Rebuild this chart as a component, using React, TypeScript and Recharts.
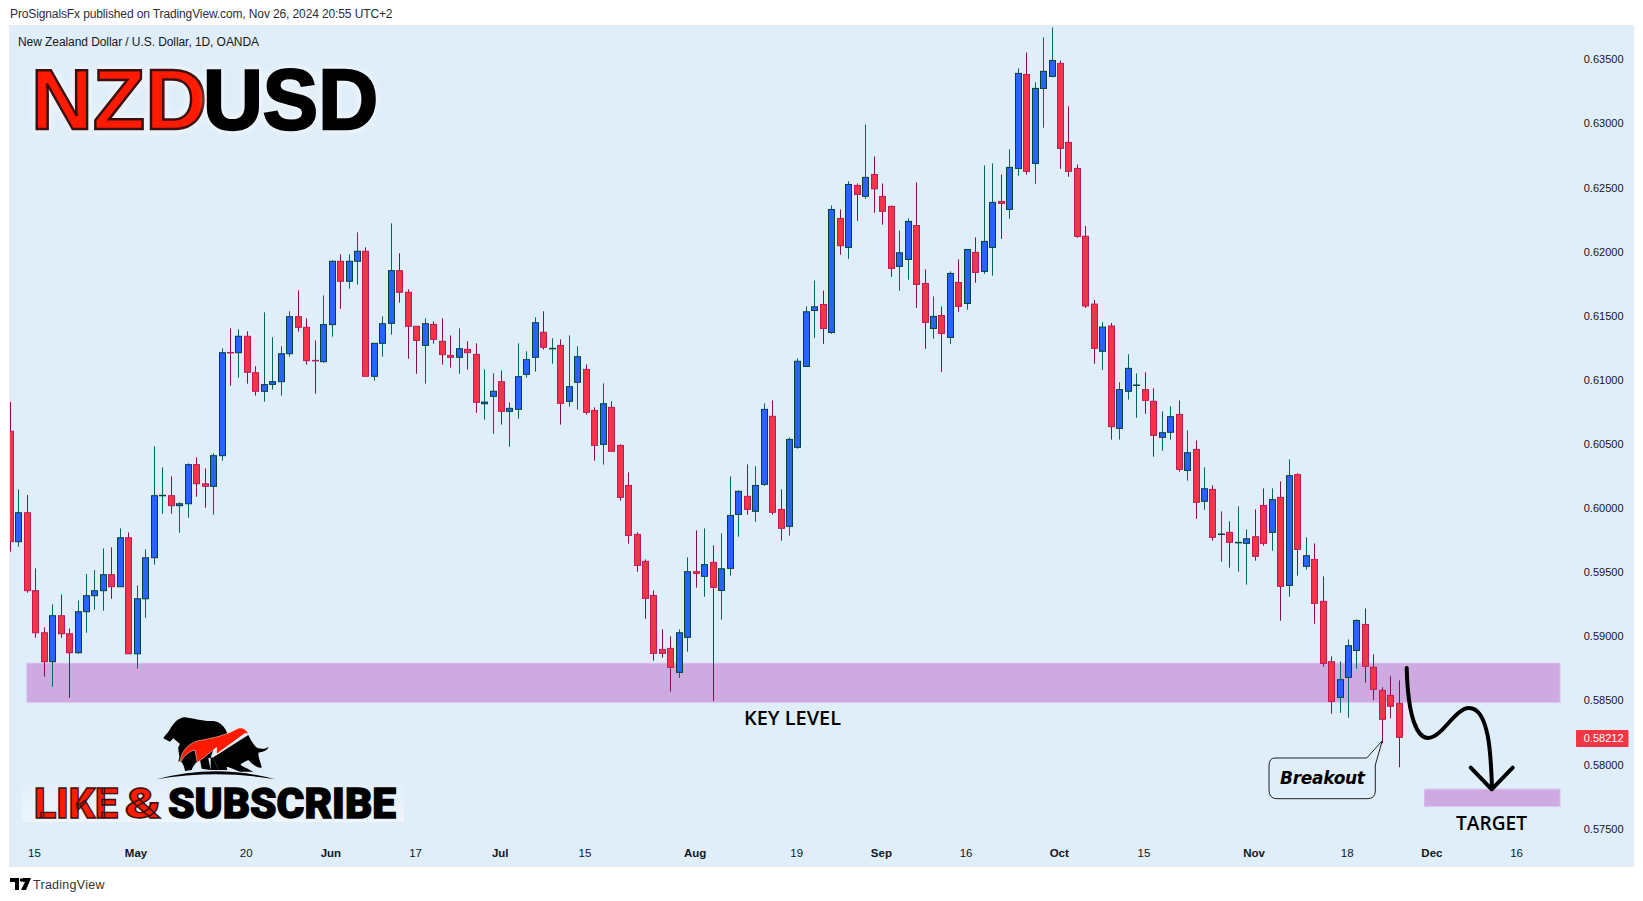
import { ComposedChart, Bar, XAxis, YAxis, ReferenceArea } from 'recharts'

// daily NZDUSD candles
const opens = [
  0.60599, 0.59738, 0.59964, 0.59356, 0.59028, 0.58802, 0.59161, 0.5902, 0.58872, 0.59192,
  0.59317, 0.59356, 0.59481, 0.59387, 0.59769, 0.58864, 0.59293, 0.59613, 0.60097, 0.60097,
  0.60019, 0.60034, 0.60339, 0.6019, 0.6017, 0.60409, 0.61214, 0.61212, 0.6134, 0.61056,
  0.60911, 0.60965, 0.60986, 0.61204, 0.61493, 0.6141, 0.61152, 0.61142, 0.61431, 0.61925,
  0.61769, 0.61925, 0.62003, 0.61028, 0.61285, 0.61441, 0.61852, 0.61683, 0.61418, 0.61269,
  0.61433, 0.61301, 0.61191, 0.61176, 0.61238, 0.61199, 0.60814, 0.60872, 0.60986, 0.60755,
  0.6077, 0.61043, 0.61176, 0.61371, 0.61243, 0.61269, 0.60833, 0.60981, 0.61082, 0.60762,
  0.60497, 0.60786, 0.60489, 0.60177, 0.59795, 0.59585, 0.59319, 0.58898, 0.58906, 0.58719,
  0.58992, 0.59504, 0.59468, 0.59577, 0.59358, 0.5953, 0.59951, 0.60092, 0.59975, 0.60185,
  0.60716, 0.5999, 0.59858, 0.60474, 0.61105, 0.61541, 0.61588, 0.6137, 0.62259, 0.62033,
  0.62516, 0.62431, 0.62602, 0.62431, 0.62353, 0.61885, 0.61939, 0.62204, 0.61752, 0.61401,
  0.61502, 0.61331, 0.6176, 0.61596, 0.61994, 0.61846, 0.62033, 0.62392, 0.62329, 0.62649,
  0.63382, 0.62688, 0.63273, 0.63367, 0.63468, 0.62852, 0.62649, 0.6212, 0.61591, 0.61223,
  0.6142, 0.60622, 0.60911, 0.60957, 0.60924, 0.60833, 0.60552, 0.60591, 0.60731, 0.60294,
  0.60458, 0.60053, 0.60146, 0.59795, 0.59811, 0.5973, 0.59725, 0.59777, 0.60021, 0.59811,
  0.60084, 0.59397, 0.60261, 0.59546, 0.596, 0.59273, 0.58802, 0.58524, 0.5868, 0.5889,
  0.59093, 0.58759, 0.58579, 0.5854, 0.58478,
]
const highs = [
  0.60827, 0.60146, 0.60102, 0.5953, 0.5907, 0.59249, 0.59327, 0.59062, 0.5928, 0.59486,
  0.59517, 0.59686, 0.59694, 0.59842, 0.59811, 0.59397, 0.59678, 0.60482, 0.60318, 0.60248,
  0.60045, 0.60349, 0.60396, 0.6031, 0.60427, 0.61246, 0.61402, 0.61394, 0.61379, 0.61106,
  0.61527, 0.61332, 0.61262, 0.61535, 0.61698, 0.6148, 0.61308, 0.61659, 0.61932, 0.61979,
  0.61979, 0.62151, 0.62034, 0.61285, 0.61496, 0.62221, 0.61987, 0.61706, 0.61418, 0.6148,
  0.61457, 0.6148, 0.61347, 0.61402, 0.61301, 0.61285, 0.61082, 0.61051, 0.61074, 0.60825,
  0.61285, 0.61223, 0.61488, 0.61535, 0.61324, 0.61316, 0.61347, 0.61262, 0.61121, 0.60786,
  0.60973, 0.60833, 0.60497, 0.60279, 0.59811, 0.596, 0.59358, 0.59054, 0.59, 0.59054,
  0.59616, 0.59826, 0.59842, 0.59709, 0.59803, 0.60248, 0.60138, 0.60341, 0.60326, 0.60817,
  0.6084, 0.60146, 0.60552, 0.61168, 0.61573, 0.61775, 0.61697, 0.6236, 0.62329, 0.62548,
  0.62532, 0.62992, 0.62743, 0.62532, 0.6236, 0.62165, 0.62259, 0.6254, 0.61861, 0.61651,
  0.61573, 0.61846, 0.61939, 0.62017, 0.62111, 0.62672, 0.62688, 0.62602, 0.62797, 0.63429,
  0.63554, 0.6332, 0.63671, 0.63749, 0.63491, 0.63133, 0.6268, 0.622, 0.61623, 0.61451,
  0.61444, 0.60981, 0.61199, 0.61051, 0.61059, 0.60934, 0.60755, 0.60794, 0.6084, 0.60606,
  0.60528, 0.60318, 0.60177, 0.59975, 0.59897, 0.60014, 0.59834, 0.5999, 0.60154, 0.60154,
  0.60209, 0.6038, 0.60271, 0.59772, 0.59725, 0.59468, 0.58844, 0.58805, 0.58976, 0.59132,
  0.59218, 0.5886, 0.58603, 0.58689, 0.58657,
]
const lows = [
  0.5966, 0.59699, 0.5934, 0.58989, 0.58685, 0.58607, 0.58989, 0.58521, 0.58864, 0.59028,
  0.59208, 0.592, 0.59293, 0.59387, 0.58864, 0.58747, 0.59145, 0.59559, 0.59956, 0.59956,
  0.59808, 0.59925, 0.60089, 0.60003, 0.59949, 0.6037, 0.60955, 0.61017, 0.6097, 0.60877,
  0.6083, 0.60924, 0.60877, 0.61181, 0.61376, 0.61119, 0.60892, 0.61134, 0.61337, 0.61555,
  0.61711, 0.61743, 0.61028, 0.60994, 0.61181, 0.61353, 0.61602, 0.61165, 0.61048, 0.6097,
  0.61282, 0.61119, 0.61095, 0.61048, 0.6108, 0.60744, 0.6069, 0.6058, 0.60651, 0.60479,
  0.60697, 0.61017, 0.61064, 0.61236, 0.61126, 0.60651, 0.60791, 0.60768, 0.60729, 0.6037,
  0.60339, 0.60443, 0.60058, 0.59722, 0.59504, 0.59137, 0.5881, 0.58833, 0.58568, 0.58677,
  0.5888, 0.59379, 0.59309, 0.58495, 0.5913, 0.59473, 0.59777, 0.59949, 0.59894, 0.60175,
  0.59949, 0.59746, 0.59785, 0.60463, 0.61102, 0.61328, 0.61281, 0.61359, 0.61976, 0.61944,
  0.62241, 0.62412, 0.62303, 0.6221, 0.61804, 0.61695, 0.61781, 0.61562, 0.61242, 0.6132,
  0.61063, 0.61281, 0.61531, 0.61547, 0.61757, 0.61827, 0.61812, 0.621, 0.62256, 0.62592,
  0.626, 0.62529, 0.62966, 0.63359, 0.62646, 0.62584, 0.62108, 0.6156, 0.61126, 0.61077,
  0.60534, 0.60534, 0.60846, 0.60705, 0.60736, 0.60401, 0.60448, 0.60534, 0.60284, 0.60214,
  0.59917, 0.59988, 0.59746, 0.59582, 0.59535, 0.59504, 0.59403, 0.5959, 0.59707, 0.59668,
  0.59122, 0.59309, 0.59473, 0.5952, 0.59098, 0.58763, 0.58396, 0.58404, 0.58365, 0.58747,
  0.58638, 0.58501, 0.58166, 0.58361, 0.57979,
]
const closes = [
  0.59738, 0.59964, 0.59356, 0.59028, 0.58802, 0.59161, 0.5902, 0.58872, 0.59192, 0.59317,
  0.59356, 0.59481, 0.59387, 0.59769, 0.58864, 0.59293, 0.59613, 0.60097, 0.601, 0.60019,
  0.60034, 0.60339, 0.6019, 0.6017, 0.60409, 0.61212, 0.61212, 0.6134, 0.61059, 0.60911,
  0.60963, 0.60986, 0.61204, 0.61493, 0.6141, 0.6115, 0.6115, 0.61431, 0.61925, 0.61769,
  0.61925, 0.62003, 0.61028, 0.61285, 0.61438, 0.61852, 0.61683, 0.61418, 0.61308, 0.61438,
  0.61316, 0.61197, 0.61176, 0.61243, 0.61212, 0.60825, 0.60827, 0.60911, 0.60755, 0.60778,
  0.61025, 0.61158, 0.61446, 0.61254, 0.61246, 0.60817, 0.60947, 0.61181, 0.60747, 0.60489,
  0.60814, 0.60443, 0.60084, 0.59787, 0.59553, 0.59296, 0.58867, 0.58867, 0.58758, 0.59028,
  0.59504, 0.59491, 0.59559, 0.59382, 0.59527, 0.59943, 0.60131, 0.5999, 0.60177, 0.6077,
  0.59967, 0.59842, 0.60536, 0.61145, 0.61531, 0.6157, 0.61401, 0.62329, 0.62046, 0.62524,
  0.62446, 0.62579, 0.6249, 0.62314, 0.61869, 0.61991, 0.62236, 0.61744, 0.61448, 0.61495,
  0.61362, 0.6183, 0.61573, 0.62017, 0.61838, 0.6208, 0.62384, 0.62376, 0.62657, 0.6339,
  0.62626, 0.63273, 0.63406, 0.63491, 0.62805, 0.62626, 0.62119, 0.61576, 0.61246, 0.61412,
  0.60635, 0.60924, 0.6109, 0.6096, 0.6084, 0.60567, 0.60588, 0.60713, 0.60302, 0.60432,
  0.60045, 0.60151, 0.59772, 0.59798, 0.59733, 0.59733, 0.59761, 0.59624, 0.59725, 0.60066,
  0.5939, 0.60253, 0.59678, 0.59629, 0.59257, 0.58789, 0.58493, 0.58662, 0.58927, 0.59124,
  0.58766, 0.58587, 0.58353, 0.58455, 0.58212,
]

const priceTicks = [0.575, 0.58, 0.58212, 0.585, 0.59, 0.595, 0.6, 0.605, 0.61, 0.615, 0.62, 0.625, 0.63, 0.635]
const lastPrice = 0.58212

// index of the trading day under each date label
const dateTicks = [3, 15, 28, 38, 48, 58, 68, 81, 93, 103, 113, 124, 134, 147, 158, 168, 178]
const dateLabels = ['15', 'May', '20', 'Jun', '17', 'Jul', '15', 'Aug', '19', 'Sep', '16', 'Oct', '15', 'Nov', '18', 'Dec', '16']
const monthLabels = ['May', 'Jun', 'Jul', 'Aug', 'Sep', 'Oct', 'Nov', 'Dec']

const SLOTS = 191 // candles plus the empty days to the right of the last one

const rows = Array.from({ length: SLOTS }, (_, i) =>
  i < opens.length
    ? { i, open: opens[i], close: closes[i], range: [lows[i], highs[i]] }
    : { i, open: null, close: null, range: null }
)

const BG = '#E0EEF9'
const ZONE = '#CDAADF'
const ZONE_EDGE = '#DDB9F0'
const TEXT = '#131722'
const BAND = 1617.77 / SLOTS

function Candle(props: any) {
  const { x, y, width, height, payload } = props
  if (!payload || payload.range == null) return null
  const [low, high] = payload.range
  const up = payload.close >= payload.open
  const perUnit = height / (high - low)
  const top = y + (high - Math.max(payload.open, payload.close)) * perUnit
  const bottom = y + (high - Math.min(payload.open, payload.close)) * perUnit
  const mid = Math.floor(x + width / 2) + 0.5
  return (
    <g>
      <line x1={mid} x2={mid} y1={y} y2={y + height} stroke={up ? '#00695C' : '#880E4F'} strokeWidth={1} />
      <rect
        x={mid - 3}
        y={top}
        width={6}
        height={Math.max(bottom - top, 0.5)}
        fill={up ? '#2962FF' : '#F23645'}
        stroke={up ? '#00433C' : '#C2185B'}
        strokeWidth={1}
      />
    </g>
  )
}

// the area spans whole bands, the drawn box goes from candle centre to candle centre
function Zone(props: any) {
  const { x, y, width, height } = props
  return (
    <rect x={x + BAND / 2} y={y} width={width - BAND} height={height} fill={ZONE} stroke={ZONE_EDGE} strokeWidth={1} />
  )
}

function PriceTick(props: any) {
  const { x, y, payload } = props
  const value = payload.value
  if (value === lastPrice) {
    return (
      <g>
        <rect x={x - 47.5} y={y - 7.5} width={52.5} height={17} rx={1} fill="#F23645" />
        <text x={x} y={y + 5} textAnchor="end" fontSize={11} fontFamily="Liberation Sans" fill="#fff">
          {value.toFixed(5)}
        </text>
      </g>
    )
  }
  return (
    <text x={x} y={y + 4} textAnchor="end" fontSize={11} fontFamily="Liberation Sans" fill={TEXT}>
      {value.toFixed(5)}
    </text>
  )
}

function DateTick(props: any) {
  const { x, payload } = props
  const label = dateLabels[dateTicks.indexOf(payload.value)]
  return (
    <text
      x={x - 1}
      y={831}
      textAnchor="middle"
      fontSize={11.5}
      fontFamily="Liberation Sans"
      fontWeight={monthLabels.includes(label) ? 700 : 400}
      fill={TEXT}
    >
      {label}
    </text>
  )
}

// text and drawings the author put on top of the chart, in page coordinates
function Overlay() {
  const halo = { filter: 'drop-shadow(0 0 4px rgba(255,255,255,0.8))' }
  return (
    <svg width={1643} height={901} style={{ position: 'absolute', left: 0, top: 0, pointerEvents: 'none' }}>
      <defs>
        <linearGradient id="plate" x1="0" y1="0" x2="0" y2="1">
          <stop offset="0" stopColor={BG} />
          <stop offset="1" stopColor="#EEF5FC" />
        </linearGradient>
      </defs>
      <text x={10} y={18} fontSize={12} fontFamily="Liberation Sans" fill="#2A2E39" textLength={382.5} lengthAdjust="spacing">
        ProSignalsFx published on TradingView.com, Nov 26, 2024 20:55 UTC+2
      </text>
      <text x={18} y={46} fontSize={12} fontFamily="Liberation Sans" fill={TEXT} textLength={241} lengthAdjust="spacing">
        New Zealand Dollar / U.S. Dollar, 1D, OANDA
      </text>

      <text x={31} y={129} fontSize={86} fontWeight={700} fontFamily="Liberation Sans" fill="#FF1A00" stroke="#3a1010" strokeWidth={2.5} textLength={176} lengthAdjust="spacingAndGlyphs" style={halo}>
        NZD
      </text>
      <text x={203} y={129} fontSize={86} fontWeight={700} fontFamily="Liberation Sans" fill="#000" stroke="#000" strokeWidth={2.5} textLength={175} lengthAdjust="spacingAndGlyphs" style={halo}>
        USD
      </text>

      <rect x={22} y={777} width={382} height={45} fill="url(#plate)" />
      <g transform="translate(0,670) scale(0.3333)">
        <path d="M490,205 C495,195 503,190 510,178 C520,160 535,143 555,142 C580,145 610,155 640,153 C660,155 675,170 682,190 L640,240 L632,262 L632,300 L655,300 L640,262 L625,265 L632,300 L605,296 L600,270 C590,275 580,285 575,300 L555,303 C552,285 545,270 535,275 L538,262 C538,245 530,235 540,222 L520,205 L510,215 Z" fill="#000" />
        <path d="M640,262 L745,195 C755,215 765,232 775,235 C790,238 800,235 806,230 C800,245 785,245 775,248 C775,265 785,285 785,293 C770,295 755,280 745,270 C735,275 725,278 722,285 C730,290 750,300 760,305 L720,305 C705,300 690,292 680,290 L682,300 L655,300 Z" fill="#000" />
        <path d="M540,282 C540,250 560,222 595,212 C640,205 680,195 715,175 C730,172 740,180 745,192 L735,190 L650,252 L650,232 L592,278 L585,240 C565,245 548,260 540,282 Z" fill="#FF1A00" stroke="#fff" strokeWidth={1.5} />
        <path d="M470,328 Q650,280 825,328 Q650,298 470,328 Z" fill="#000" />
      </g>
      <text x={34} y={818} fontSize={43} fontWeight={900} fontFamily="Roboto" fill="#FF1A00" stroke="#3a1010" strokeWidth={1.4} textLength={84} lengthAdjust="spacingAndGlyphs">
        LIKE
      </text>
      <text x={125} y={818} fontSize={43} fontWeight={900} fontFamily="Roboto" fill="#FF1A00" stroke="#3a1010" strokeWidth={1.4} textLength={36} lengthAdjust="spacingAndGlyphs">
        &amp;
      </text>
      <text x={168} y={818} fontSize={43} fontWeight={900} fontFamily="Roboto" fill="#000" stroke="#000" strokeWidth={1.4} textLength={228} lengthAdjust="spacingAndGlyphs">
        SUBSCRIBE
      </text>

      <text x={744} y={725} fontSize={19} fontWeight={600} fontFamily="Open Sans" fill="#000" textLength={97} lengthAdjust="spacingAndGlyphs">
        KEY LEVEL
      </text>
      <text x={1456} y={830} fontSize={19} fontWeight={600} fontFamily="Open Sans" fill="#000" textLength={71} lengthAdjust="spacingAndGlyphs">
        TARGET
      </text>

      <path
        d="M1275,758 L1366.7,758 L1382.3,740.7 L1375.3,765 L1375.3,791 Q1375.3,798.7 1367,798.7 L1277,798.7 Q1269,798.7 1269,790 L1269,766 Q1269,758 1275,758 Z"
        fill={BG}
        stroke="#222"
        strokeWidth={1}
      />
      <text x={1280} y={783.5} fontSize={17} fontWeight={700} fontStyle="italic" fontFamily="DejaVu Sans" fill="#000" textLength={85} lengthAdjust="spacing">
        Breakout
      </text>

      <path
        d="M1406.7,668 C1408,720 1418,738 1428,738 C1442,738 1455,708 1469,708 C1490,708 1491,760 1492,788"
        fill="none"
        stroke="#000"
        strokeWidth={4}
        strokeLinecap="round"
      />
      <path d="M1470.7,767.7 L1491.7,789.3 L1512.7,767.7" fill="none" stroke="#000" strokeWidth={4} strokeLinecap="round" strokeLinejoin="round" />

      <path d="M10,878 H19 V890 H15 V882 H10 Z M23,878 H31 L26,890 H21 L25,882 H23 Z" fill="#000" />
      <circle cx={21.5} cy={880} r={1.8} fill="#000" />
      <text x={33} y={888.5} fontSize={12.5} fontFamily="Liberation Sans" fill="#333" textLength={71.5} lengthAdjust="spacing">
        TradingView
      </text>
    </svg>
  )
}

export default function App() {
  return (
    <div style={{ position: 'absolute', left: 0, top: 0, width: 1643, height: 901, background: '#fff', overflow: 'hidden' }}>
      <div style={{ position: 'absolute', left: 10, top: 26, width: 1623, height: 840, background: BG, boxShadow: '0 0 0 1px #E8ECF0' }}>
        <ComposedChart width={1623} height={840} data={rows} margin={{ top: 0, right: 9.5, bottom: 0, left: -4.235 }} barCategoryGap={0}>
          <XAxis
            dataKey="i"
            type="category"
            ticks={dateTicks}
            interval={0}
            mirror
            axisLine={false}
            tickLine={false}
            tick={<DateTick />}
          />
          <YAxis
            orientation="right"
            mirror
            domain={[0.572091, 0.637597]}
            allowDataOverflow
            ticks={priceTicks}
            interval={0}
            axisLine={false}
            tickLine={false}
            tickMargin={0}
            tickSize={0}
            tick={<PriceTick />}
          />
          <ReferenceArea x1={2} x2={183} y1={0.58486} y2={0.5879} shape={<Zone />} />
          <ReferenceArea x1={167} x2={183} y1={0.57675} y2={0.57808} shape={<Zone />} />
          <Bar dataKey="range" barSize={7} shape={<Candle />} isAnimationActive={false} />
        </ComposedChart>
      </div>
      <Overlay />
    </div>
  )
}
